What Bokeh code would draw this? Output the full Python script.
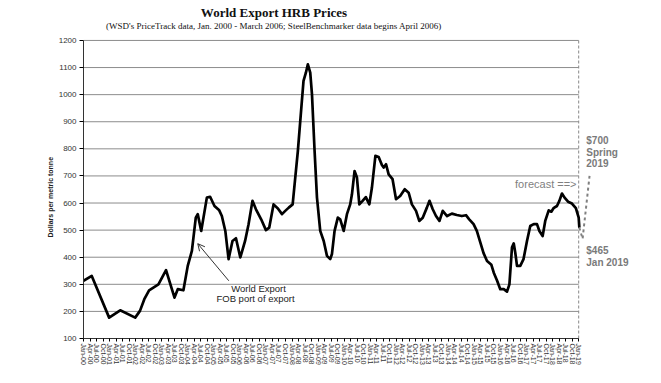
from bokeh.plotting import figure
from bokeh.models import FixedTicker, Label, Arrow, OpenHead, Range1d, Title
from bokeh.embed import file_html
from bokeh.resources import INLINE

# months since Jan 2000 and price ($/metric tonne)
month_idx = [0, 3.8, 11.8, 16.9, 23.8, 26, 28, 30.2, 34.5, 38, 41.9, 43.4, 46,
             48, 49.9, 51.7, 52.6, 54.2, 56.8, 58.3, 60.3, 62.5, 63.7, 65.3, 66.8,
             68.6, 70.2, 72.2, 74.4, 76, 77.8, 79.4, 81.8, 84, 85.5, 87.5, 89.5,
             91.4, 92.9, 94.5, 96.3, 97.5, 98.7, 100.3, 101.3, 102.4, 103.3, 104.4,
             105.2, 106.4, 107.5, 109, 110.6, 112.1, 113.6, 114.4, 115.6, 117.1,
             118.2, 119.8, 121.3, 122.8, 123.6, 124.8, 125.9, 127, 128.5, 130,
             131.6, 132.8, 134.4, 135.9, 137.4, 138.2, 139.3, 140.5, 142.3, 143.9,
             145.8, 147.9, 149.7, 151.2, 153.1, 154.6, 156.2, 158.1, 159.3, 160.8,
             162.3, 163.9, 165.4, 167.4, 169.6, 171.9, 174.2, 176.1, 177.6, 179.6,
             181.1, 182.7, 184.2, 185.8, 187.8, 188.9, 190.4, 191.9, 193.5, 195,
             196.1, 197.3, 198.1, 198.8, 199.6, 201.1, 202.6, 204.2, 205.7, 207.3,
             208.8, 209.9, 211.4, 212.6, 214.2, 215.4, 216.4, 218, 219.1, 220.3,
             221.5, 223.1, 224.9, 226.7, 228, 228.3]
price = [313, 331, 177, 204, 177, 202, 245, 278, 300, 352, 251, 282, 278,
         368, 423, 546, 559, 497, 620, 623, 589, 573, 552, 497, 393,
         460, 470, 399, 460, 522, 608, 577, 540, 500, 509, 595, 580,
         559, 571, 583, 595, 694, 792, 952, 1051, 1081, 1112, 1081,
         1001, 792, 620, 497, 460, 405, 393, 412, 497, 546,
         540, 497, 559, 595, 632, 718, 694, 595, 608, 622,
         595, 657, 774, 770, 740, 731, 743, 706, 688, 614,
         626, 651, 638, 595, 571, 534, 546, 583, 608, 577,
         552, 534, 571, 552, 561, 556, 552, 555, 540, 522,
         497, 455, 415, 386, 372, 343, 314, 282, 282, 273,
         300, 437, 451, 417, 368, 368, 393, 460, 515, 522,
         522, 497, 478, 534, 573, 568, 581, 589, 608, 635,
         620, 605, 598, 581, 546, 509]

forecast_month = [228.3, 229.8, 233.0]
forecast_price = [509, 468, 700]
forecast_start = 228

grid_values = list(range(100, 1300, 100))
quarter_names = ["Jan", "Apr", "Jul", "Oct"]
tick_months = list(range(0, 229, 3))
tick_labels = [f"{quarter_names[(t // 3) % 4]}-{t // 12:02d}" for t in tick_months]

SANS = "Liberation Sans"
SERIF = "Liberation Serif"

p = figure(width=651, height=380, x_range=Range1d(0, 256), y_range=Range1d(100, 1329),
           output_backend="svg", toolbar_location=None,
           min_border_left=83, min_border_right=12, min_border_top=5, min_border_bottom=42)
p.outline_line_color = None
p.xgrid.visible = False
p.ygrid.visible = False

# horizontal gridlines
p.segment(x0=[0] * len(grid_values), y0=grid_values, x1=[forecast_start] * len(grid_values),
          y1=grid_values, line_color="#8c8c8c", line_width=1)

# forecast boundary
p.segment(x0=[forecast_start], y0=[100], x1=[forecast_start], y1=[1200],
          line_color="#888888", line_width=1, line_dash="3 2")

p.line(month_idx, price, line_color="black", line_width=2.7, line_join="round")
p.line(forecast_month, forecast_price, line_color="#808080", line_width=2, line_dash="3 3")

# axes
p.yaxis.ticker = FixedTicker(ticks=grid_values)
p.yaxis.bounds = (100, 1200)
p.yaxis.major_label_text_font = SANS
p.yaxis.major_label_text_font_size = "8px"
p.yaxis.major_label_text_color = "#333333"
p.yaxis.major_tick_out = 4
p.yaxis.major_tick_in = 0
p.yaxis.minor_tick_line_color = None
p.yaxis.axis_line_color = "#333333"
p.yaxis.major_label_standoff = 3

# y axis title, placed like the reference (lower than frame centre)
p.add_layout(Title(text="Dollars per metric tonne", align="left", offset=101,
                   text_font=SANS, text_font_size="7px", text_font_style="bold",
                   text_color="#222222", standoff=4), "left")

p.xaxis.ticker = FixedTicker(ticks=tick_months)
p.xaxis.major_label_overrides = {t: l for t, l in zip(tick_months, tick_labels)}
p.xaxis.major_label_orientation = "vertical"
p.xaxis.major_label_text_font = SANS
p.xaxis.major_label_text_font_size = "7px"
p.xaxis.major_label_text_color = "#333333"
p.xaxis.major_tick_out = 3
p.xaxis.major_tick_in = 0
p.xaxis.minor_tick_line_color = None
p.xaxis.axis_line_color = "#333333"
p.xaxis.bounds = (0, forecast_start)
p.xaxis.major_label_standoff = 2

# titles
p.add_layout(Label(x=87.7, y=1303, text="World Export HRB Prices", text_font=SERIF,
                   text_font_size="13px", text_font_style="bold", text_align="center",
                   text_baseline="middle", text_color="#111111"))
p.add_layout(Label(x=87.7, y=1252,
                   text="(WSD's PriceTrack data, Jan. 2000 - March 2006; SteelBenchmarker data begins April 2006)",
                   text_font=SERIF, text_font_size="9px", text_align="center",
                   text_baseline="middle", text_color="#111111"))

# annotation arrow
p.add_layout(Arrow(end=OpenHead(size=7, line_color="#333333", line_width=1),
                   x_start=66.9, y_start=313, x_end=52.6, y_end=450,
                   line_color="#333333", line_width=1))
p.add_layout(Label(x=80.6, y=283, text="World Export", text_font=SANS, text_font_size="9.5px",
                   text_align="center", text_baseline="middle", text_color="#222222"))
p.add_layout(Label(x=79.2, y=246, text="FOB port of export", text_font=SANS, text_font_size="9.5px",
                   text_align="center", text_baseline="middle", text_color="#222222"))

# forecast annotations
p.add_layout(Label(x=227, y=669, text="forecast ==>", text_font=SANS, text_font_size="11px",
                   text_align="right", text_baseline="middle", text_color="#7f7f7f"))
for txt, yv in [("$700", 831), ("Spring", 787), ("2019", 746), ("$465", 425), ("Jan 2019", 382)]:
    p.add_layout(Label(x=231.5, y=yv, text=txt, text_font=SANS, text_font_size="10px",
                       text_font_style="bold", text_align="left", text_baseline="middle",
                       text_color="#7a7a7a"))

open("out.html", "w").write(file_html(p, INLINE))
